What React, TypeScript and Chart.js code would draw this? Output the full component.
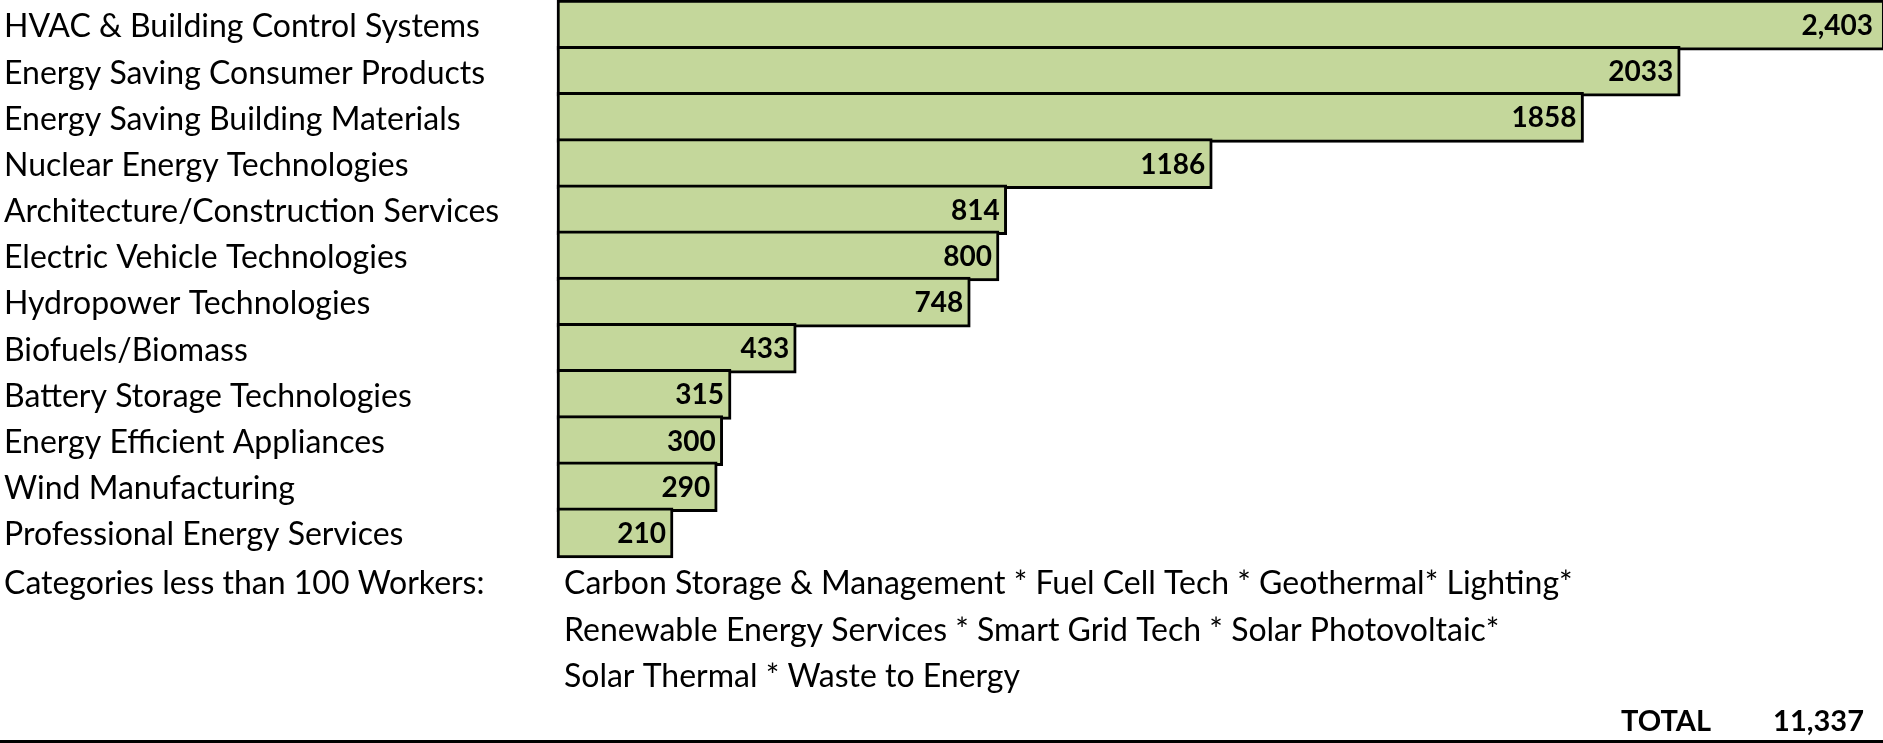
import React, { useEffect, useRef } from "react";
import { Chart, registerables } from "chart.js";

Chart.register(...registerables);

const categories = [
  "HVAC & Building Control Systems",
  "Energy Saving Consumer Products",
  "Energy Saving Building Materials",
  "Nuclear Energy Technologies",
  "Architecture/Construction Services",
  "Electric Vehicle Technologies",
  "Hydropower Technologies",
  "Biofuels/Biomass",
  "Battery Storage Technologies",
  "Energy Efficient Appliances",
  "Wind Manufacturing",
  "Professional Energy Services",
];
const workers = [2403, 2033, 1858, 1186, 814, 800, 748, 433, 315, 300, 290, 210];
const valueLabels = ["2,403", "2033", "1858", "1186", "814", "800", "748", "433", "315", "300", "290", "210"];
const smallTitle = "Categories less than 100 Workers:";
const smallLines = [
  "Carbon Storage & Management * Fuel Cell Tech * Geothermal* Lighting*",
  "Renewable Energy Services * Smart Grid Tech * Solar Photovoltaic*",
  "Solar Thermal * Waste to Energy",
];
const totalLabel = "TOTAL";
const totalValue = "11,337";

const W = 1883;
const H = 743;
const FONT = "Lato, 'Open Sans', sans-serif";
const FS = 32;
const FS_BOLD = 28;
const FS_TOTAL = 29;

export default function App() {
  const ref = useRef<HTMLCanvasElement | null>(null);

  useEffect(() => {
    if (!ref.current) return;
    const overlay = {
      id: "overlay",
      afterDraw(chart: any) {
        const ctx = chart.ctx as CanvasRenderingContext2D;
        const area = chart.chartArea;
        ctx.save();
        ctx.fillStyle = "#000";
        ctx.textBaseline = "middle";
        // value labels
        ctx.font = `bold ${FS_BOLD}px ${FONT}`;
        ctx.textAlign = "right";
        const meta = chart.getDatasetMeta(0);
        meta.data.forEach((bar: any, i: number) => {
          const x = Math.min(bar.x, area.right - 3) - 7;
          ctx.fillText(valueLabels[i], x, bar.y + 1);
        });
        // small categories
        ctx.font = `${FS}px ${FONT}`;
        ctx.textAlign = "left";
        ctx.fillText(smallTitle, 4, 584);
        smallLines.forEach((line, i) => {
          ctx.fillText(line, 564, 584 + i * 46.5);
        });
        // total
        ctx.font = `bold ${FS_TOTAL}px ${FONT}`;
        ctx.fillText(totalLabel, 1621, 722);
        ctx.textAlign = "right";
        ctx.fillText(totalValue, 1864, 722);
        // bottom rule
        ctx.fillRect(0, 740, W, 3);
        ctx.restore();
      },
    };

    const chart = new Chart(ref.current, {
      type: "bar",
      data: {
        labels: categories,
        datasets: [
          {
            data: workers,
            backgroundColor: "#C4D79B",
            borderColor: "#000000",
            borderWidth: 3,
            borderSkipped: false,
            barThickness: 50,
            clip: false,
          },
        ],
      },
      options: {
        indexAxis: "y",
        animation: false,
        responsive: false,
        maintainAspectRatio: false,
        layout: { padding: { left: 4, right: 0, top: 2, bottom: 187 } },
        plugins: {
          legend: { display: false },
          tooltip: { enabled: false },
        },
        scales: {
          x: {
            display: false,
            min: 0,
            max: 2400,
          },
          y: {
            grid: { display: false },
            border: { display: false },
            ticks: {
              crossAlign: "far",
              color: "#000",
              font: { family: FONT, size: FS },
              padding: 0,
              labelOffset: 2,
            },
            afterFit(scale: any) {
              scale.width = 553;
              scale.paddingTop = 0;
              scale.paddingBottom = 0;
            },
          },
        },
      },
      plugins: [overlay],
    } as any);
    return () => chart.destroy();
  }, []);

  return (
    <div style={{ position: "absolute", left: 0, top: 0, width: W, height: H, background: "#fff" }}>
      <canvas ref={ref} width={W} height={H} style={{ display: "block", width: W, height: H }} />
    </div>
  );
}
